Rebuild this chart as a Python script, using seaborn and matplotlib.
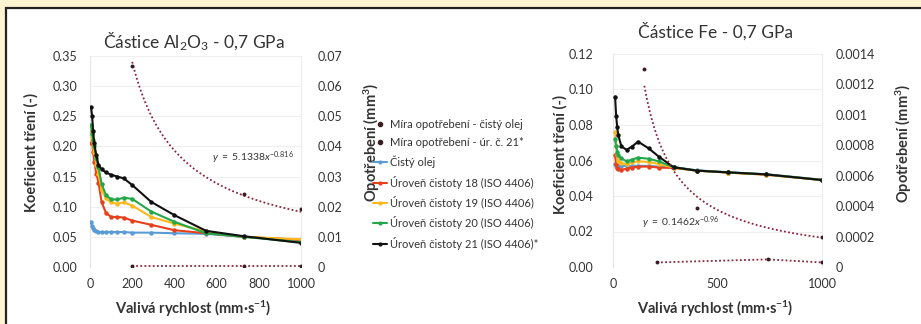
import numpy as np
import pandas as pd
import matplotlib
matplotlib.use("Agg")
import matplotlib.pyplot as plt
from matplotlib.patches import Rectangle
from matplotlib.lines import Line2D
import seaborn as sns

# ---------------- data ----------------
# Left panel: Al2O3 particles
al_x = [5, 10, 15, 20, 30, 40, 55, 75, 100, 130, 160, 200, 290, 400, 550, 730, 1000]
al_clean = [0.075, 0.068, 0.064, 0.061, 0.059, 0.058, 0.058, 0.058, 0.058, 0.058, 0.058, 0.057, 0.057, 0.056, 0.055, 0.050, 0.044]
al_18 = [0.205, 0.205, 0.190, 0.175, 0.155, 0.140, 0.108, 0.090, 0.083, 0.083, 0.082, 0.077, 0.070, 0.061, 0.056, 0.050, 0.045]
al_19 = [0.225, 0.210, 0.200, 0.190, 0.170, 0.155, 0.128, 0.114, 0.107, 0.105, 0.107, 0.102, 0.083, 0.072, 0.059, 0.050, 0.046]
al_20 = [0.235, 0.220, 0.210, 0.200, 0.180, 0.166, 0.138, 0.120, 0.112, 0.112, 0.115, 0.113, 0.092, 0.075, 0.056, 0.050, 0.041]
al_21 = [0.265, 0.250, 0.225, 0.205, 0.185, 0.170, 0.162, 0.157, 0.153, 0.150, 0.147, 0.136, 0.108, 0.086, 0.060, 0.051, 0.040]
al_wear_x = [200, 730, 1000]
al_wear_clean = [0.0003, 0.0003, 0.0003]
al_wear_21 = [0.0667, 0.0242, 0.0193]
al_trend_coef, al_trend_exp = 5.1338, -0.816

# Right panel: Fe particles
fe_x = [10, 15, 20, 25, 40, 65, 90, 120, 170, 220, 290, 400, 550, 730, 1000]
fe_clean = [0.058, 0.057, 0.057, 0.057, 0.057, 0.057, 0.057, 0.057, 0.057, 0.0565, 0.0563, 0.0545, 0.0534, 0.0523, 0.0492]
fe_18 = [0.063, 0.058, 0.056, 0.055, 0.0548, 0.0553, 0.056, 0.0565, 0.0566, 0.056, 0.0558, 0.0543, 0.0532, 0.0520, 0.049]
fe_19 = [0.076, 0.068, 0.063, 0.060, 0.0585, 0.058, 0.059, 0.0595, 0.0592, 0.058, 0.0560, 0.0543, 0.0532, 0.0521, 0.049]
fe_20 = [0.072, 0.068, 0.065, 0.063, 0.0612, 0.0595, 0.0605, 0.0616, 0.0610, 0.0595, 0.0562, 0.0543, 0.0533, 0.0522, 0.049]
fe_21 = [0.096, 0.085, 0.079, 0.0744, 0.0680, 0.066, 0.0678, 0.0706, 0.0669, 0.0621, 0.0562, 0.0543, 0.0533, 0.0522, 0.049]
fe_wear_clean_x = [210, 740, 1000]
fe_wear_clean = [0.00003, 0.00005, 0.00003]
fe_wear_21_x = [150, 400, 1000]
fe_wear_21 = [0.00130, 0.00039, 0.000197]
fe_trend_coef, fe_trend_exp = 0.1462, -0.96

labels = ["Míra opotřebení - čistý olej", "Míra opotřebení - úr. č. 21*", "Čistý olej",
          "Úroveň čistoty 18 (ISO 4406)", "Úroveň čistoty 19 (ISO 4406)",
          "Úroveň čistoty 20 (ISO 4406)", "Úroveň čistoty 21 (ISO 4406)*"]

# ---------------- style ----------------
sns.set_style("white")
plt.rcParams["font.family"] = ["Lato", "DejaVu Sans"]
plt.rcParams["mathtext.fontset"] = "custom"
plt.rcParams["mathtext.rm"] = "Lato"
plt.rcParams["mathtext.it"] = "Lato:italic"
plt.rcParams["mathtext.bf"] = "Lato:bold"

C_BLUE = "#5b9bd5"
C_RED = "#e8401c"
C_YEL = "#ffb81c"
C_GRN = "#22a84a"
C_BLK = "#111111"
C_TREND = "#8a2540"
C_WPT = "#3a1c22"
TXT = "#333333"

fig = plt.figure(figsize=(9.21, 3.24), dpi=100)
fig.patch.set_facecolor("#fff4d2")
fig.patches.append(Rectangle((6 / 921, -0.1), 1.2, 1 - 8 / 324 + 0.1, transform=fig.transFigure,
                             facecolor="white", edgecolor="#222222", lw=1.6, zorder=-10))

W, H = 921, 324


def make_axes(x0, x1, y_top, y_bot):
    return fig.add_axes([x0 / W, 1 - y_bot / H, (x1 - x0) / W, (y_bot - y_top) / H])


def style_axes(ax, ax2):
    for a in (ax, ax2):
        a.set_facecolor("none")
        for s in a.spines.values():
            s.set_visible(False)
        a.tick_params(length=0, labelsize=9, colors=TXT)
    ax.spines["left"].set_visible(True)
    ax.spines["left"].set_color("#e4e4e4")
    ax.spines["left"].set_linewidth(0.8)
    ax2.spines["right"].set_visible(True)
    ax2.spines["right"].set_color("#ececec")
    ax2.spines["right"].set_linewidth(0.8)
    ax.grid(axis="y", color="#efefef", lw=0.8)
    ax.grid(axis="x", visible=False)
    ax2.grid(False)


def draw_panel(ax, ax2, x, series, wx_c, w_c, wx_21, w_21, coef, expo):
    cols = [C_BLUE, C_RED, C_YEL, C_GRN, C_BLK]
    for s, c in zip(series, cols):
        sns.lineplot(x=x, y=s, ax=ax, color=c, lw=1.5, marker="o", markersize=3.2,
                     markeredgewidth=0, legend=False, zorder=3)
    tx = np.linspace(wx_21[0], wx_21[-1], 200)
    sns.lineplot(x=tx, y=coef * tx ** expo, ax=ax2, color=C_TREND, lw=1.3,
                 linestyle=(0, (1, 1.3)), legend=False)
    sns.lineplot(x=wx_c, y=w_c, ax=ax2, color=C_TREND, lw=1.3,
                 linestyle=(0, (1, 1.3)), legend=False)
    sns.scatterplot(x=wx_c, y=w_c, ax=ax2, color=C_WPT, s=8, linewidth=0, legend=False, zorder=4)
    sns.scatterplot(x=wx_21, y=w_21, ax=ax2, color=C_WPT, s=8, linewidth=0, legend=False, zorder=4)


# ---- left panel ----
axL = make_axes(90, 301, 56, 267)
axL2 = axL.twinx()
style_axes(axL, axL2)
draw_panel(axL, axL2, al_x, [al_clean, al_18, al_19, al_20, al_21],
           al_wear_x, al_wear_clean, al_wear_x, al_wear_21, al_trend_coef, al_trend_exp)
axL.set_xlim(0, 1000)
axL.set_ylim(0, 0.35)
axL.set_yticks(np.arange(0, 0.351, 0.05))
axL.set_yticklabels([f"{v:.2f}" for v in np.arange(0, 0.351, 0.05)])
axL.set_xticks([0, 200, 400, 600, 800, 1000])
axL2.set_ylim(0, 0.07)
axL2.set_yticks(np.arange(0, 0.0701, 0.01))
axL2.set_yticklabels(["0"] + [f"{v:.2f}" for v in np.arange(0.01, 0.0701, 0.01)])
axL.tick_params(axis="y", pad=9)
axL.tick_params(axis="x", pad=8)
axL2.tick_params(axis="y", pad=12)
axL.set_title("Částice Al$_{\\mathregular{2}}$O$_{\\mathregular{3}}$ - 0,7 GPa", fontsize=12.5,
              color=TXT, x=0.49, y=0.995)
axL.text(0.578, 0.517, r"$\mathit{y\ =\ 5.1338x^{-0.816}}$", fontsize=7.5, color=TXT,
         transform=axL.transAxes, va="center")

# ---- right panel ----
axR = make_axes(613, 822, 54, 267)
axR2 = axR.twinx()
style_axes(axR, axR2)
draw_panel(axR, axR2, fe_x, [fe_clean, fe_18, fe_19, fe_20, fe_21],
           fe_wear_clean_x, fe_wear_clean, fe_wear_21_x, fe_wear_21, fe_trend_coef, fe_trend_exp)
axR.set_xlim(0, 1000)
axR.set_ylim(0, 0.12)
axR.set_yticks(np.arange(0, 0.1201, 0.02))
axR.set_yticklabels([f"{v:.2f}" for v in np.arange(0, 0.1201, 0.02)])
axR.set_xticks([0, 500, 1000])
axR2.set_ylim(0, 0.0014)
axR2.set_yticks(np.arange(0, 0.00141, 0.0002))
axR2.set_yticklabels(["0", "0.0002", "0.0004", "0.0006", "0.0008", "0.001", "0.0012", "0.0014"])
axR.tick_params(axis="y", pad=14)
axR.tick_params(axis="x", pad=8)
axR2.tick_params(axis="y", pad=10)
axR.set_title("Částice Fe - 0,7 GPa", fontsize=12.5, color=TXT, x=0.49, y=1.04)
axR.text(0.14, 0.207, r"$\mathit{y\ =\ 0.1462x^{-0.96}}$", fontsize=7.5, color=TXT,
         transform=axR.transAxes, va="center")

# ---- axis labels ----
xl = "Valivá rychlost (mm·s$^{\\mathbf{-1}}$)"
for ax, ax2, lx, rx, ly, ry in [(axL, axL2, -0.245, 1.29, 0.545, 0.59),
                                (axR, axR2, -0.215, 1.345, 0.53, 0.58)]:
    ax.set_xlabel(xl, fontsize=10.5, fontweight="bold", color=TXT)
    ax.set_ylabel("Koeficient tření (-)", fontsize=10.5, fontweight="bold", color=TXT)
    ax2.set_ylabel("Opotřebení (mm$^{\\mathbf{3}}$)", fontsize=10.5, fontweight="bold", color=TXT)
    ax.yaxis.set_label_coords(lx, ly)
    ax2.yaxis.set_label_coords(rx, ry)
    ax.xaxis.set_label_coords(0.49, -0.15)

# ---- legend ----
handles = [
    Line2D([], [], linestyle="none", marker="o", markersize=3, color=C_WPT),
    Line2D([], [], linestyle="none", marker="o", markersize=3, color=C_WPT),
    Line2D([], [], color=C_BLUE, lw=1.5, marker="o", markersize=3, markeredgewidth=0),
    Line2D([], [], color=C_RED, lw=1.5, marker="o", markersize=3, markeredgewidth=0),
    Line2D([], [], color=C_YEL, lw=1.5, marker="o", markersize=3, markeredgewidth=0),
    Line2D([], [], color=C_GRN, lw=1.5, marker="o", markersize=3, markeredgewidth=0),
    Line2D([], [], color=C_BLK, lw=1.5, marker="o", markersize=3, markeredgewidth=0),
]
fig.legend(handles, labels, loc="upper left", bbox_to_anchor=(373 / W, 1 - 119 / H),
           frameon=False, fontsize=8, labelspacing=0.66, handlelength=1.3, handletextpad=0.25,
           borderpad=0, borderaxespad=0, labelcolor=TXT)

fig.savefig("out.png", dpi=100, facecolor=fig.get_facecolor())
